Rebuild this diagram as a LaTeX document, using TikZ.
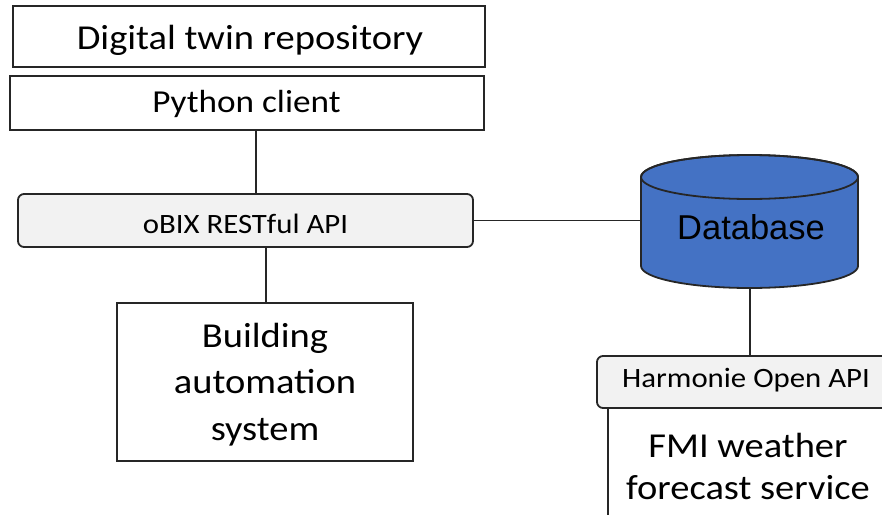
\documentclass[tikz,border=0pt]{standalone}
\usepackage{fontspec}
\setmainfont{Carlito}[FakeStretch=1.1]
\newfontfamily\dbfont{Liberation Sans}
\definecolor{dbblue}{HTML}{4472C4}
\definecolor{apigray}{HTML}{F2F2F2}
\definecolor{edge}{HTML}{262626}
\tikzset{
  plainbox/.style={draw=edge, line width=1.8pt, fill=white, inner sep=0pt},
  apibox/.style={plainbox, fill=apigray, rounded corners=6pt},
  txt/.style={anchor=base, inner sep=0pt, align=center},
  link/.style={draw=edge, line width=1.7pt},
}
\begin{document}
\begin{tikzpicture}[x=1pt,y=1pt]
\clip (0,0) rectangle (882,-514);

% left stack
\node[plainbox, minimum width=472pt, minimum height=61pt] (repo) at (249,-36.5) {};
\node[plainbox, minimum width=474pt, minimum height=54pt] (client) at (247,-103) {};
\node[apibox, minimum width=455pt, minimum height=53pt] (obix) at (245.5,-220.5) {};
\node[plainbox, minimum width=296pt, minimum height=158pt] (bas) at (265,-382) {};

\node[txt, font=\fontsize{35}{42}\selectfont] (repotxt) at (250,-49) {Digital twin repository};
\node[txt, font=\fontsize{32}{38}\selectfont] (clienttxt) at (246.5,-112) {Python client};
\node[txt, font=\fontsize{28}{34}\selectfont] (obixtxt) at (245.5,-233) {oBIX RESTful API};
% multi-line text: the base anchor sits on the last line
\node[txt, font=\fontsize{35}{46.5}\selectfont] (bastxt) at (265,-440) {Building\\automation\\system};

% database cylinder
\node[inner sep=0pt, minimum width=217pt, minimum height=133pt] (db) at (749.5,-221.5) {};
\path[fill=dbblue, draw=edge, line width=1.8pt]
  (641,-177) -- (641,-266) arc[start angle=180, end angle=360, x radius=108.5, y radius=22]
  -- (858,-177) arc[start angle=0, end angle=180, x radius=108.5, y radius=22] -- cycle;
\draw[edge, line width=1.8pt] (749.5,-177) ellipse[x radius=108.5, y radius=22];
\node[txt, font=\dbfont\fontsize{34.5}{40}\selectfont] (dbtxt) at (751,-239) {Database};

% weather service
\node[plainbox, minimum width=280pt, minimum height=130pt] (fmi) at (748,-473) {};
\node[apibox, minimum width=300pt, minimum height=52pt] (harmonie) at (747,-382) {};
\node[txt, font=\fontsize{28}{34}\selectfont] (harmonietxt) at (746,-387) {Harmonie Open API};
\node[txt, font=\fontsize{35}{42}\selectfont] (fmitxt) at (748,-499) {FMI weather\\forecast service};

% connectors
\draw[link] (client.south -| 256,0) -- (obix.north -| 256,0);
\draw[link] (obix.south -| 266,0) -- (bas.north -| 266,0);
\draw[link] (obix.east) -- (db.west |- obix.east);
\draw[link] (db.south -| 750,0) -- (harmonie.north -| 750,0);
\end{tikzpicture}
\end{document}
